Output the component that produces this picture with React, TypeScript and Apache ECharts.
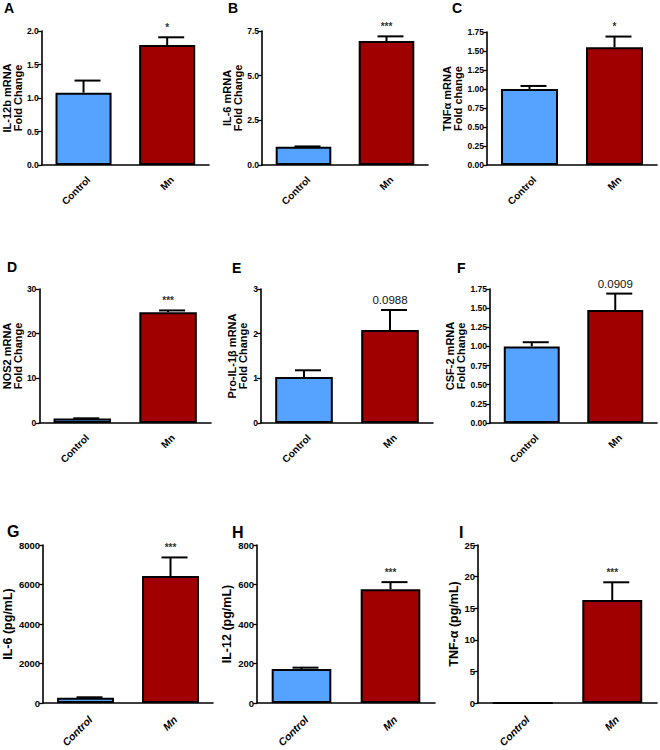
import React, { useEffect, useRef } from "react";
import * as echarts from "echarts";

const categories = ["Control", "Mn"];
const panelLetters = ["A", "B", "C", "D", "E", "F", "G", "H", "I"];
const yTitles = [
  "IL-12b mRNA\nFold Change",
  "IL-6 mRNA\nFold Change",
  "TNFα mRNA\nFold change",
  "NOS2 mRNA\nFold Change",
  "Pro-IL-1β mRNA\nFold Change",
  "CSF-2 mRNA\nFold Change",
  "IL-6 (pg/mL)",
  "IL-12 (pg/mL)",
  "TNF-α (pg/mL)",
];
const controlMeans = [1.08, 1.02, 1.0, 0.98, 1.03, 1.0, 270, 172, 0];
const controlSem = [0.18, 0.02, 0.04, 0.07, 0.15, 0.055, 20, 7, 0];
const mnMeans = [1.79, 6.94, 1.55, 24.8, 2.08, 1.475, 6430, 576, 16.3];
const mnSem = [0.116, 0.26, 0.14, 0.4, 0.45, 0.215, 940, 36, 2.8];
const yMaxes = [2, 7.5, 1.75, 30, 3, 1.75, 8000, 800, 25];
const yIntervals = [0.5, 2.5, 0.25, 10, 1, 0.25, 2000, 200, 5];
const tickDecimals = [1, 1, 2, 0, 0, 2, 0, 0, 0];
const significance = ["*", "***", "*", "***", "0.0988", "0.0909", "***", "***", "***"];

// layout: [left, right(x end), top, bottom(zero line y)]
const gridRects = [
  [41, 209, 31, 165],
  [262, 428, 31, 165],
  [487, 657, 32, 165],
  [39, 211, 289, 423],
  [261, 433, 289, 423],
  [490, 657, 289, 423],
  [41, 213, 545, 703],
  [257, 435, 545, 703],
  [478, 657, 545, 703],
];
const nameGaps = [18, 19, 19, 15, 13, 20, 22, 18, 15];
const letterPos = [
  [4, 1],
  [228, 1],
  [452, 1],
  [7, 260],
  [232, 261],
  [457, 261],
  [7, 523],
  [232, 524],
  [459, 524],
];

const BLUE = "#55A2FF";
const RED = "#A00000";
const NARROW = '"Liberation Sans Narrow", "Arial Narrow", "Liberation Sans", Arial, sans-serif';
const SANS = '"Liberation Sans", Arial, Helvetica, sans-serif';

export default function App() {
  const ref = useRef<HTMLDivElement>(null);
  useEffect(() => {
    if (!ref.current) return;
    const chart = echarts.init(ref.current, null, { renderer: "svg" });
    const grid: any[] = [];
    const xAxis: any[] = [];
    const yAxis: any[] = [];
    const series: any[] = [];
    const graphic: any[] = [];
    for (let p = 0; p < 9; p++) {
      const [l, r, t, b] = gridRects[p];
      const bottomRow = p >= 6;
      grid.push({ left: l, top: t, width: r - l, height: b - t });
      xAxis.push({
        type: "category",
        gridIndex: p,
        data: categories,
        axisLine: { lineStyle: { color: "#000", width: 1.6 } },
        axisTick: { alignWithLabel: true, length: 5, lineStyle: { color: "#000", width: 1.3 } },
        axisLabel: { show: false },
      });
      const dec = tickDecimals[p];
      yAxis.push({
        type: "value",
        gridIndex: p,
        min: 0,
        max: yMaxes[p],
        interval: yIntervals[p],
        splitLine: { show: false },
        axisLine: { show: true, lineStyle: { color: "#000", width: 1.6 } },
        axisTick: { show: true, length: 4, lineStyle: { color: "#000", width: 1.3 } },
        axisLabel: {
          margin: 3,
          color: "#000",
          fontFamily: NARROW,
          fontWeight: "bold",
          fontSize: bottomRow ? 9.5 : 8.5,
          formatter: (v: number) => v.toFixed(dec),
        },
        name: yTitles[p],
        nameLocation: "middle",
        nameGap: nameGaps[p],
        nameTextStyle: {
          fontFamily: SANS,
          fontWeight: "bold",
          color: "#000",
          fontSize: bottomRow ? 12.5 : 11,
          lineHeight: bottomRow ? 14 : 11,
          align: "center",
        },
      });
      series.push({
        type: "bar",
        xAxisIndex: p,
        yAxisIndex: p,
        barWidth: "67%",
        data: [
          { value: controlMeans[p], itemStyle: { color: BLUE } },
          { value: mnMeans[p], itemStyle: { color: RED } },
        ],
        itemStyle: { borderColor: "#000", borderWidth: 2 },
        z: 2,
      });
      const sig = significance[p];
      const numeric = /\d/.test(sig);
      series.push({
        type: "custom",
        xAxisIndex: p,
        yAxisIndex: p,
        z: 3,
        clip: false,
        data: [
          [0, controlMeans[p], controlMeans[p] + controlSem[p]],
          [1, mnMeans[p], mnMeans[p] + mnSem[p]],
        ],
        renderItem: (params: any, api: any) => {
          const idx = api.value(0);
          const mean = api.value(1);
          const top = api.value(2);
          const base = api.coord([idx, mean]);
          const tp = api.coord([idx, top]);
          const zero = api.coord([idx, 0]);
          const capHalf = 17;
          const children: any[] = [];
          if (top > mean) {
            children.push({
              type: "line",
              shape: { x1: base[0], y1: base[1], x2: tp[0], y2: tp[1] },
              style: { stroke: "#000", lineWidth: 2 },
            });
            children.push({
              type: "line",
              shape: { x1: tp[0] - capHalf + 8, y1: tp[1], x2: tp[0] + capHalf, y2: tp[1] },
              style: { stroke: "#000", lineWidth: 2 },
            });
          }
          // category label rotated 45 degrees, ending just below the tick
          children.push({
            type: "text",
            x: zero[0] + 5,
            y: zero[1] + (bottomRow ? 15 : 13),
            rotation: Math.PI / 4,
            style: {
              text: categories[idx],
              fill: "#000",
              fontFamily: SANS,
              fontWeight: "bold",
              fontStyle: bottomRow ? "italic" : "normal",
              fontSize: bottomRow ? 10.5 : 10,
              align: "right",
              verticalAlign: "middle",
            },
          });
          if (params.dataIndex === 1) {
            children.push({
              type: "text",
              x: tp[0],
              y: tp[1] - 10,
              style: {
                text: sig,
                fill: numeric ? "#111" : "#333",
                fontFamily: SANS,
                fontWeight: numeric ? "normal" : "bold",
                fontSize: numeric ? 11.5 : 10,
                align: "center",
                verticalAlign: "middle",
              },
            });
          }
          return { type: "group", children };
        },
      });
      graphic.push({
        type: "text",
        left: letterPos[p][0],
        top: letterPos[p][1],
        style: {
          text: panelLetters[p],
          fontFamily: SANS,
          fontWeight: "bold",
          fontSize: bottomRow ? 16 : 14,
          fill: "#000",
        },
      });
    }
    chart.setOption({ animation: false, backgroundColor: "#fff", grid, xAxis, yAxis, series, graphic });
    return () => chart.dispose();
  }, []);
  return (
    <div ref={ref} style={{ position: "fixed", left: 0, top: 0, width: 660, height: 750, background: "#fff" }} />
  );
}
